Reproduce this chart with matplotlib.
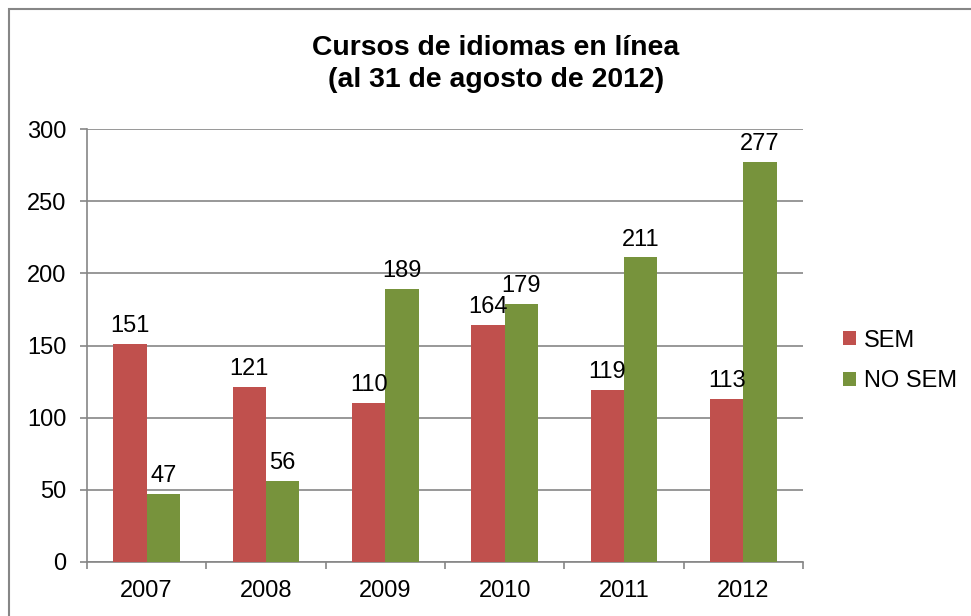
import numpy as np
import matplotlib
matplotlib.use("Agg")
from matplotlib import pyplot as plt
from matplotlib.patches import Rectangle

years = ["2007", "2008", "2009", "2010", "2011", "2012"]
sem = [151, 121, 110, 164, 119, 113]
no_sem = [47, 56, 189, 179, 211, 277]
series_names = ["SEM", "NO SEM"]
title = "Cursos de idiomas en línea\n(al 31 de agosto de 2012)"

red = "#C0504D"
green = "#77933C"
grid_col = "#868686"
fs = 17

plt.rcParams["font.family"] = ["Liberation Sans", "DejaVu Sans"]

fig = plt.figure(figsize=(9.71, 6.16), dpi=100)
# chart area border
fig.patches.append(Rectangle((9 / 971, -0.1), 1.2, 1 - 9 / 616 + 0.1,
                             transform=fig.transFigure, fill=False,
                             edgecolor=grid_col, linewidth=1.5))

ax = fig.add_axes([87 / 971, 1 - 562 / 616, (803 - 87) / 971, (562 - 129) / 616])

x = np.arange(len(years))
w = 0.28
b1 = ax.bar(x - w / 2, sem, w, color=red, label=series_names[0], zorder=3)
b2 = ax.bar(x + w / 2, no_sem, w, color=green, label=series_names[1], zorder=3)
ax.bar_label(b1, padding=5, fontsize=fs)
ax.bar_label(b2, padding=5, fontsize=fs)

ax.set_xlim(-0.5, len(years) - 0.5)
ax.set_ylim(0, 300)
ax.set_yticks(range(0, 301, 50))
ax.yaxis.grid(True, color=grid_col, linewidth=1.2, zorder=0)
ax.set_axisbelow(True)

ax.set_xticks(x)
ax.set_xticklabels(years)
ax.set_xticks(np.arange(-0.5, len(years)), minor=True)
ax.tick_params(axis="x", which="major", length=0, labelsize=fs, pad=13)
ax.tick_params(axis="x", which="minor", length=5, width=1.2, color=grid_col)
ax.tick_params(axis="y", length=5, width=1.2, color=grid_col, labelsize=fs, pad=10)

for s in ["top", "right"]:
    ax.spines[s].set_visible(False)
for s in ["left", "bottom"]:
    ax.spines[s].set_color(grid_col)
    ax.spines[s].set_linewidth(1.2)

fig.text(496 / 971, 1 - 64 / 616, title, ha="center", va="center",
         fontsize=20.4, fontweight="bold", linespacing=1.3)

ax.legend(loc="center left", bbox_to_anchor=(834 / 971, 1 - 361 / 616),
          bbox_transform=fig.transFigure, frameon=False, fontsize=fs,
          handlelength=0.55, handleheight=0.55, handletextpad=0.3,
          labelspacing=0.8, borderaxespad=0)

fig.savefig("out.png", dpi=100)
